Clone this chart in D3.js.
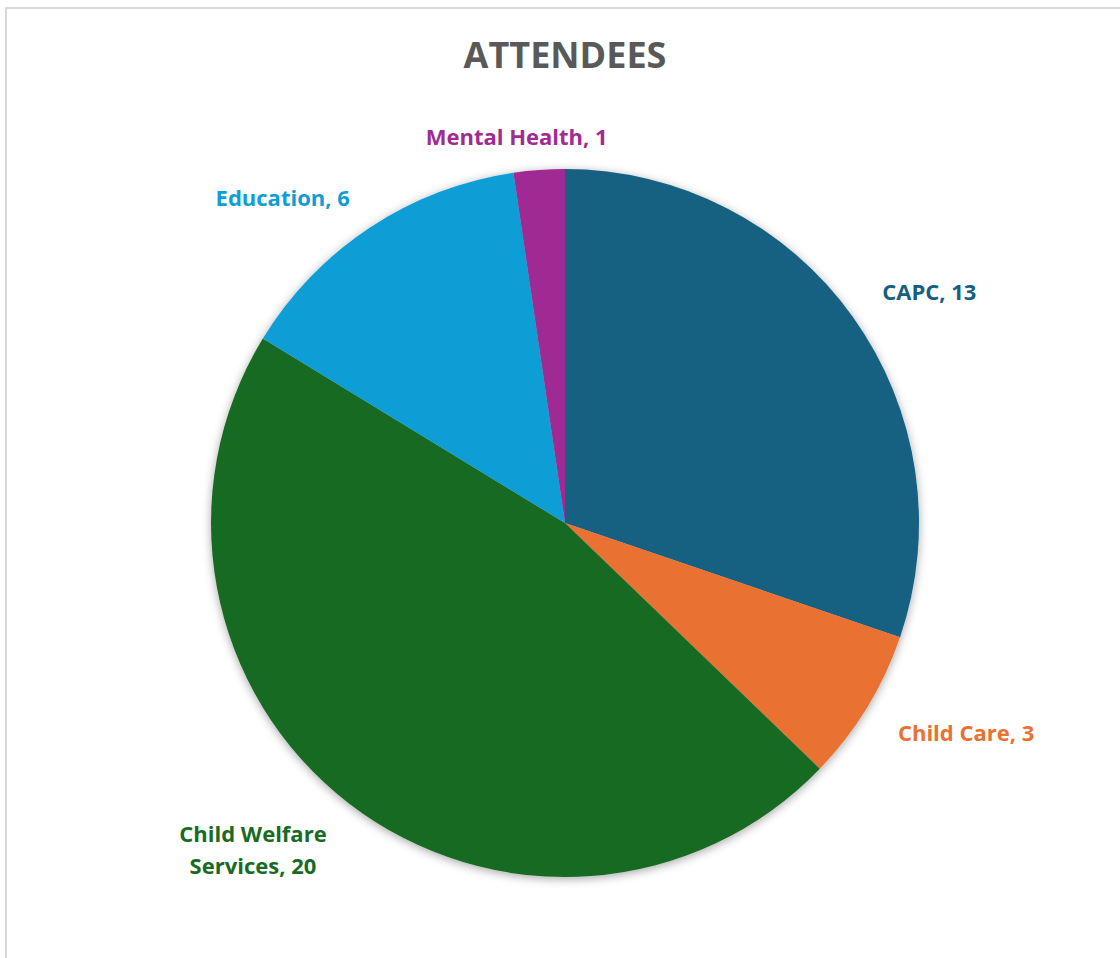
<!DOCTYPE html>
<html>
<head>
<meta charset="utf-8">
<script src="https://cdn.jsdelivr.net/npm/d3@7"></script>
<style>
  html, body { margin: 0; padding: 0; background: #ffffff; }
  svg { display: block; }
</style>
</head>
<body>
<svg id="chart" width="1120" height="958"></svg>
<script>
// Attendees by sector
const categories = ["CAPC", "Child Care", "Child Welfare Services", "Education", "Mental Health"];
const values = [13, 3, 20, 6, 1];
const colors = ["#156082", "#E97132", "#196B24", "#0F9ED5", "#A02B93"];
// Label lines (the long category wraps onto two lines)
const labelLines = [
  ["CAPC, 13"],
  ["Child Care, 3"],
  ["Child Welfare", "Services, 20"],
  ["Education, 6"],
  ["Mental Health, 1"]
];

const W = 1120, H = 958;
const cx = 565, cy = 523, radius = 354;
const fontFamily = "'Open Sans', Roboto, sans-serif";

const svg = d3.select("#chart");

// chart frame
svg.append("rect")
  .attr("x", 6).attr("y", 8)
  .attr("width", W + 20).attr("height", H + 20)
  .attr("fill", "#ffffff")
  .attr("stroke", "#d9d9d9")
  .attr("stroke-width", 2);

// soft shadow under the pie
const defs = svg.append("defs");
const f = defs.append("filter").attr("id", "pieShadow")
  .attr("x", "-10%").attr("y", "-10%").attr("width", "120%").attr("height", "120%");
f.append("feDropShadow")
  .attr("dx", 0).attr("dy", 2)
  .attr("stdDeviation", 5)
  .attr("flood-color", "#000")
  .attr("flood-opacity", 0.35);

// title
svg.append("text")
  .attr("x", cx).attr("y", 68)
  .attr("text-anchor", "middle")
  .attr("font-family", fontFamily)
  .attr("font-weight", 700)
  .attr("font-size", 36)
  .attr("fill", "#595959")
  .text("ATTENDEES");

const data = categories.map((c, i) => ({ name: c, value: values[i], color: colors[i], lines: labelLines[i] }));

const pie = d3.pie().sort(null).value(d => d.value);
const arcs = pie(data);
const arc = d3.arc().innerRadius(0).outerRadius(radius);

const g = svg.append("g").attr("transform", `translate(${cx},${cy})`);

g.append("g").attr("filter", "url(#pieShadow)")
  .selectAll("path")
  .data(arcs)
  .join("path")
  .attr("d", arc)
  .attr("fill", d => d.data.color);

// outside labels: anchored beyond the rim at each slice's mid angle
const gapX = 36, gapY = 19;
const lineH = 32;
const labels = g.selectAll("g.lbl")
  .data(arcs)
  .join("g")
  .attr("class", "lbl");

labels.each(function(d) {
  const sel = d3.select(this);
  const t = sel.append("text")
    .attr("text-anchor", "middle")
    .attr("font-family", fontFamily)
    .attr("font-weight", 700)
    .attr("font-size", 22)
    .attr("fill", d.data.color);
  d.data.lines.forEach((ln, k) => {
    t.append("tspan").attr("x", 0).attr("y", k * lineH).text(ln);
  });
  const bb = t.node().getBBox();
  const mid = (d.startAngle + d.endAngle) / 2;
  const s = Math.sin(mid), c = Math.cos(mid);
  const px = (radius + gapX) * s, py = -(radius + gapY) * c;
  const clamp = v => Math.max(-1, Math.min(1, v));
  const bx = px + clamp(3 * s) * bb.width / 2;
  const by = py - clamp(3 * c) * bb.height / 2;
  // shift so the text box centre lands at (bx, by)
  const ox = bx - (bb.x + bb.width / 2);
  const oy = by - (bb.y + bb.height / 2);
  sel.attr("transform", `translate(${ox},${oy})`);
});
</script>
</body>
</html>
